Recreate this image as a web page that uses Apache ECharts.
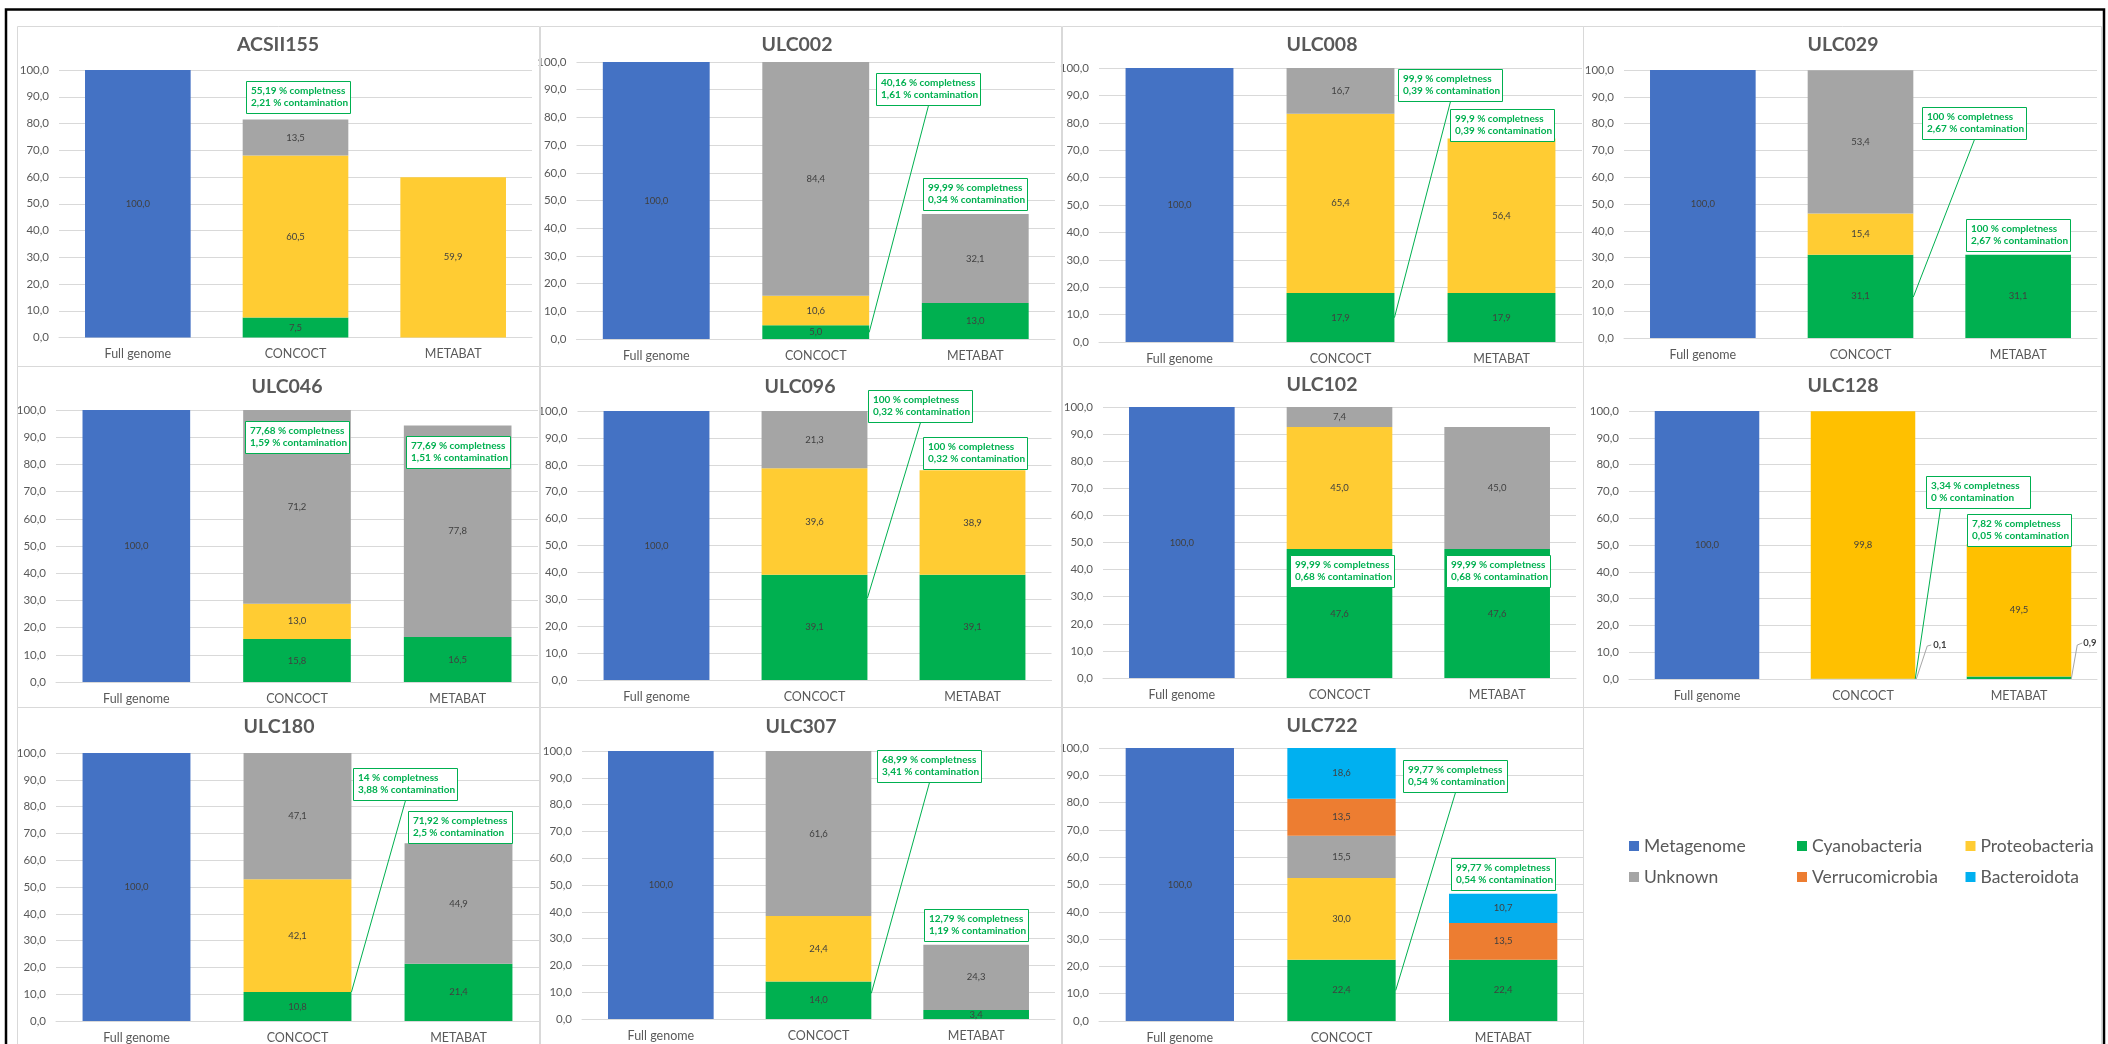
<!DOCTYPE html>
<html><head><meta charset="utf-8">
<script src="https://cdn.jsdelivr.net/npm/echarts@6/dist/echarts.min.js"></script>
<style>html,body{margin:0;padding:0;background:#fff}#c{width:2108px;height:1044px}</style>
</head><body><div id="c"></div>
<script>
// ---------------- DATA ----------------
const panelNames = ['ACSII155','ULC002','ULC008','ULC029','ULC046','ULC096','ULC102','ULC128','ULC180','ULC307','ULC722'];
const categories = ['Full genome','CONCOCT','METABAT'];
const seriesNames = ['Metagenome','Cyanobacteria','Proteobacteria','Unknown','Verrucomicrobia','Bacteroidota'];
const yTicks = [0,10,20,30,40,50,60,70,80,90,100];
// Full genome value per panel
const metagenome = [100.0,100.0,100.0,100.0,100.0,100.0,100.0,100.0,100.0,100.0,100.0];
// [CONCOCT, METABAT] per panel
const cyanobacteria   = [[7.5,null],[5.0,13.0],[17.9,17.9],[31.1,31.1],[15.8,16.5],[39.1,39.1],[47.6,47.6],[0.1,0.9],[10.8,21.4],[14.0,3.4],[22.4,22.4]];
const proteobacteria  = [[60.5,59.9],[10.6,null],[65.4,56.4],[15.4,null],[13.0,null],[39.6,38.9],[45.0,null],[99.8,49.5],[42.1,null],[24.4,null],[30.0,null]];
const unknown         = [[13.5,null],[84.4,32.1],[16.7,null],[53.4,null],[71.2,77.8],[21.3,null],[7.4,45.0],[null,null],[47.1,44.9],[61.6,24.3],[15.5,null]];
const verrucomicrobia = [[null,null],[null,null],[null,null],[null,null],[null,null],[null,null],[null,null],[null,null],[null,null],[null,null],[13.5,13.5]];
const bacteroidota    = [[null,null],[null,null],[null,null],[null,null],[null,null],[null,null],[null,null],[null,null],[null,null],[null,null],[18.6,10.7]];
// annotation texts (panel, category, lines)
const noteText = [
 [0,1,'55,19 % completness','2,21 % contamination'],
 [1,1,'40,16 % completness','1,61 % contamination'],
 [1,2,'99,99 % completness','0,34 % contamination'],
 [2,1,'99,9 % completness','0,39 % contamination'],
 [2,2,'99,9 % completness','0,39 % contamination'],
 [3,1,'100 % completness','2,67 % contamination'],
 [3,2,'100 % completness','2,67 % contamination'],
 [4,1,'77,68 % completness','1,59 % contamination'],
 [4,2,'77,69 % completness','1,51 % contamination'],
 [5,1,'100 % completness','0,32 % contamination'],
 [5,2,'100 % completness','0,32 % contamination'],
 [6,1,'99,99 % completness','0,68 % contamination'],
 [6,2,'99,99 % completness','0,68 % contamination'],
 [7,1,'3,34 % completness','0 % contamination'],
 [7,2,'7,82 % completness','0,05 % contamination'],
 [8,1,'14 % completness','3,88 % contamination'],
 [8,2,'71,92 % completness','2,5 % contamination'],
 [9,1,'68,99 % completness','3,41 % contamination'],
 [9,2,'12,79 % completness','1,19 % contamination'],
 [10,1,'99,77 % completness','0,54 % contamination'],
 [10,2,'99,77 % completness','0,54 % contamination']
];

// ---------------- LAYOUT / STYLE ----------------
const FONT = 'Lato, "Liberation Sans", Arial, sans-serif';
const colors = {Metagenome:'#4472C4',Cyanobacteria:'#00B050',Proteobacteria:'#FFCC33',Unknown:'#A5A5A5',Verrucomicrobia:'#ED7D31',Bacteroidota:'#00B0F0'};
const grids = [
 {left:59, top:70, width:473, height:267.5},
 {left:576.5, top:62, width:478.5, height:277},
 {left:1099, top:68, width:483, height:274},
 {left:1624, top:70, width:473, height:268},
 {left:56, top:410, width:482, height:272},
 {left:577.5, top:411, width:474, height:269},
 {left:1103, top:407, width:473, height:271},
 {left:1629, top:411, width:468, height:268},
 {left:56, top:753, width:483, height:269},
 {left:582, top:751, width:473, height:268},
 {left:1099, top:748, width:485, height:274}
];
const titlePos = [[278,45],[797,45],[1322,45],[1843,45],[287,387],[800,387],[1322,385],[1843,386],[279,727],[801,727],[1322,726]];
const panelCols = [[17,539],[540,1061],[1062,1583],[1583,2101]];
const panelRows = [[26,366],[366,707],[707,1080]];
// annotation box layout: dx (px from category centre), top (axis value), leader attach value, leader start offset
const noteLayout = [
 {dx:-49.5,top:95.9},
 {dx:60.5,top:96.0,lead:2.4},
 {dx:-52.6,top:58.1},
 {dx:57,top:99.6,lead:8.9},
 {dx:-52,top:85.0},
 {dx:61.5,top:86.2,lead:15.3},
 {dx:-52,top:44.4},
 {dx:-52.5,top:96.0},
 {dx:-51.4,top:90.4},
 {dx:53.6,top:107.8,lead:30.5},
 {dx:-49.5,top:90.3},
 {dx:-50,top:45.5},
 {dx:-51,top:45.4},
 {dx:63,top:75.9,lead:0.05,sx:14},
 {dx:-52,top:61.7},
 {dx:55.8,top:94.5,lead:10.8},
 {dx:-51,top:78.4},
 {dx:58.6,top:100.4,lead:9.6},
 {dx:-52.2,top:41.2},
 {dx:61.4,top:95.6,lead:11.2},
 {dx:-52.3,top:59.6}
];
const legendPos = [[1629,846],[1797,846],[1965.5,846],[1629,877],[1797,877],[1965.5,877]];

const fmt = v => (v==null?'':Number(v).toFixed(1).replace('.',','));
const seriesData = {
  Metagenome: metagenome.map(v=>[v,null,null]),
  Cyanobacteria: cyanobacteria.map(a=>[null,a[0],a[1]]),
  Proteobacteria: proteobacteria.map(a=>[null,a[0],a[1]]),
  Unknown: unknown.map(a=>[null,a[0],a[1]]),
  Verrucomicrobia: verrucomicrobia.map(a=>[null,a[0],a[1]]),
  Bacteroidota: bacteroidota.map(a=>[null,a[0],a[1]])
};

const option = {
  animation:false,
  backgroundColor:'#ffffff',
  textStyle:{fontFamily:FONT},
  grid: grids.map(g=>Object.assign({containLabel:false},g)),
  xAxis: grids.map((g,i)=>({
    gridIndex:i, type:'category', data:categories,
    axisLine:{lineStyle:{color:'#D9D9D9',width:1}}, axisTick:{show:false},
    axisLabel:{color:'#595959',fontSize:12.5,margin:10,fontFamily:FONT}
  })),
  yAxis: grids.map((g,i)=>({
    gridIndex:i, type:'value', min:yTicks[0], max:yTicks[yTicks.length-1], interval:yTicks[1]-yTicks[0],
    axisLine:{show:false}, axisTick:{show:false},
    axisLabel:{color:'#595959',fontSize:11.5,margin:10,fontFamily:FONT,formatter:v=>fmt(v)},
    splitLine:{lineStyle:{color:'#D9D9D9',width:1}}
  })),
  legend: seriesNames.map((n,k)=>({
    left:legendPos[k][0], top:legendPos[k][1]-10, padding:0, icon:'rect', itemWidth:10, itemHeight:10,
    selectedMode:false, data:[n],
    textStyle:{fontSize:17.5,color:'#595959',fontFamily:FONT,lineHeight:20}
  })),
  series: []
};
panelNames.forEach((pn,p)=>{
  seriesNames.forEach(n=>{
    const data = seriesData[n][p].map((v,ci)=>{
      if (v==null) return '-';
      const item = {value:v};
      if (p===7 && n==='Proteobacteria') item.itemStyle={color:'#FFC000'};
      if (p===7 && n==='Cyanobacteria') item.label={show:false};
      return item;
    });
    option.series.push({
      type:'bar', name:n, stack:'s'+p, xAxisIndex:p, yAxisIndex:p, barWidth:'67%',
      itemStyle:{color:colors[n]}, data:data,
      label:{show:true, position:'inside', color:'#404040', fontSize:9.5, fontFamily:FONT,
             formatter:q=>fmt(q.value)}
    });
  });
});

const chart = echarts.init(document.getElementById('c'));
chart.setOption(option);

// ---------------- GRAPHICS (frames, titles, annotations) ----------------
const px = (p,c,v)=>chart.convertToPixel({gridIndex:p},[c,v]);
const G = [];
panelRows.forEach((r,ri)=>panelCols.forEach((c,ci)=>{
  G.push({type:'rect', z:1, silent:true, shape:{x:c[0]+0.5,y:r[0]+0.5,width:c[1]-c[0],height:r[1]-r[0]},
    style:{fill:null,stroke:'#D9D9D9',lineWidth:1}});
}));
G.push({type:'rect', z:60, silent:true, shape:{x:6,y:9.5,width:2098,height:1100}, style:{fill:null,stroke:'#000000',lineWidth:2.5}});
panelNames.forEach((pn,p)=>{
  G.push({type:'text', z:20, silent:true, style:{text:pn, x:titlePos[p][0], y:titlePos[p][1],
    font:'bold 19.5px '+FONT, fill:'#595959', align:'center', verticalAlign:'middle', textAlign:'center', textVerticalAlign:'middle'}});
});
const BW = 104, BH = 32;
noteText.forEach((t,k)=>{
  const L = noteLayout[k], p=t[0], c=t[1];
  const cw = px(p,1,0)[0]-px(p,0,0)[0];
  const bw = cw*0.67;
  const cen = px(p,c,L.top);
  const bx = Math.round(cen[0]+L.dx)+0.5, by = Math.round(cen[1])+0.5;
  if (L.lead!=null){
    const e = px(p,c,L.lead);
    G.push({type:'polyline', z:30, silent:true, shape:{points:[[bx+(L.sx||52),by+BH],[e[0]+bw/2,e[1]]]},
      style:{stroke:'#00B050',lineWidth:1,fill:null}});
  }
  G.push({type:'rect', z:31, silent:true, shape:{x:bx,y:by,width:BW,height:BH}, style:{fill:'#ffffff',stroke:'#00B050',lineWidth:1}});
  G.push({type:'text', z:32, silent:true, style:{text:t[2], x:bx+4.5, y:by+9.5, font:'bold 10px '+FONT, fill:'#00B050', align:'left', verticalAlign:'middle', textAlign:'left', textVerticalAlign:'middle'}});
  G.push({type:'text', z:32, silent:true, style:{text:t[3], x:bx+4.5, y:by+21.5, font:'bold 10px '+FONT, fill:'#00B050', align:'left', verticalAlign:'middle', textAlign:'left', textVerticalAlign:'middle'}});
});
// ULC128 small cyanobacteria labels with leader lines
(function(){
  const p=7; const cw = px(p,1,0)[0]-px(p,0,0)[0]; const bw=cw*0.67;
  const offs = [{c:1, pts:[[1,0],[12,-33],[16,-34]], tx:18, ty:-34},{c:2, pts:[[0,0],[6,-34],[11,-36]], tx:12, ty:-36}];
  offs.forEach(o=>{
    const v = cyanobacteria[p][o.c-1];
    const e = px(p,o.c,0); const ex=e[0]+bw/2, ey=e[1];
    G.push({type:'polyline', z:30, silent:true, shape:{points:o.pts.map(q=>[ex+q[0],ey+q[1]])}, style:{stroke:'#A6A6A6',lineWidth:1,fill:null}});
    G.push({type:'text', z:32, silent:true, style:{text:fmt(v), x:ex+o.tx, y:ey+o.ty, font:'bold 9.5px '+FONT, fill:'#404040', align:'left', verticalAlign:'middle', textAlign:'left', textVerticalAlign:'middle'}});
  });
})();
chart.setOption({graphic:{elements:G}});
</script>
</body></html>
